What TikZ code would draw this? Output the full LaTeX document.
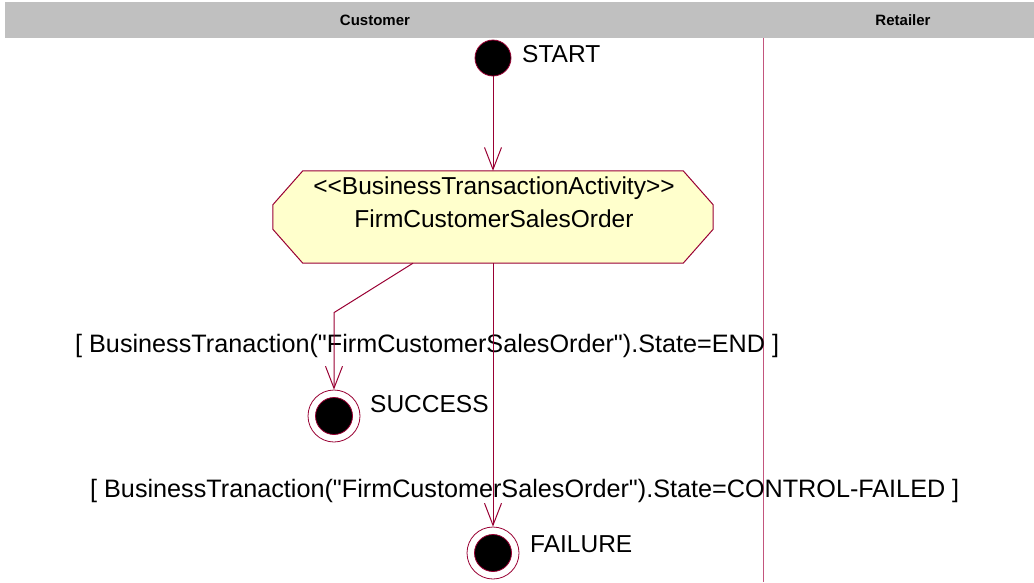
\documentclass[tikz,border=0pt]{standalone}
\usepackage{fontspec}
\setmainfont{Liberation Sans}[Ligatures=TeXOff]
\usetikzlibrary{arrows.meta,positioning,calc}
\definecolor{umlred}{RGB}{153,0,51}
\definecolor{lanepink}{RGB}{195,85,125}
\definecolor{headgray}{RGB}{192,192,192}
\definecolor{actfill}{RGB}{255,255,204}

\begin{document}
\begin{tikzpicture}[x=1pt, y=-1pt,
  txt/.style={font=\fontsize{24.5}{33}\selectfont, inner sep=0pt},
  lbl/.style={txt, anchor=base west},
  guard/.style={lbl, font=\fontsize{25.2}{30}\selectfont},
  hdr/.style={font=\fontsize{15}{18}\selectfont\bfseries, inner sep=0pt},
  initial/.style={circle, draw=umlred, fill=black, minimum size=36pt,
                  inner sep=0pt, line width=0.8pt},
  final/.style={circle, draw=umlred, fill=white, minimum size=52pt,
                inner sep=0pt, line width=0.8pt,
                path picture={\filldraw[draw=umlred, fill=black, line width=0.8pt]
                  (path picture bounding box.center) circle (18.5pt);}},
  activity/.style={minimum width=440pt, minimum height=92pt, inner sep=0pt},
  flow/.style={draw=umlred, line width=1pt,
               -{Straight Barb[length=22pt, width=17pt]}}
]
\useasboundingbox (0,0) rectangle (1034,582);

% ---- Swimlane header -------------------------------------------------
\fill[headgray] (5,2) rectangle (1034,38);
\node[hdr] (cust) at (375,20) {Customer};
\node[hdr] (ret)  at (903,20) {Retailer};
\coordinate (lanetop) at (763,38);
\coordinate (lanebot) at (763,582);
\draw[lanepink, line width=1pt] (lanetop) -- (lanebot);

% ---- States and activity ---------------------------------------------
\node[initial] (start) at (493,58) {};
\node[lbl] (startlbl) at (522,62) {START};

\node[activity] (act) at (493,217) {};
\filldraw[draw=umlred, fill=actfill, line width=1pt]
  ([xshift=30pt]act.north west) -- ([xshift=-30pt]act.north east)
  -- ([yshift=-34pt]act.north east) -- ([yshift=34pt]act.south east)
  -- ([xshift=-30pt]act.south east) -- ([xshift=30pt]act.south west)
  -- ([yshift=34pt]act.south west) -- ([yshift=-34pt]act.north west) -- cycle;
\node[txt, align=center] (actname) at (494,202.5)
  {<<BusinessTransactionActivity>>\\FirmCustomerSalesOrder};

\node[final] (succ) at (334,416) {};
\node[lbl] (succlbl) at (370,412) {SUCCESS};
\node[final] (fail) at (493,553) {};
\node[lbl] (faillbl) at (530,552) {FAILURE};

% ---- Guards ------------------------------------------------------------
\node[guard] (guardok) at (75,352)
  {[ BusinessTranaction("FirmCustomerSalesOrder").State=END ]};
\node[guard] (guardko) at (90,497)
  {[ BusinessTranaction("FirmCustomerSalesOrder").State=CONTROL-FAILED ]};

% ---- Flow --------------------------------------------------------------
\draw[flow] (start) -- (act.north);
\draw[flow] ([xshift=-80pt]act.south) -- ([yshift=77pt]succ.north) -- (succ.north);
\draw[flow] (act.south) -- (fail.north);
\end{tikzpicture}
\end{document}
